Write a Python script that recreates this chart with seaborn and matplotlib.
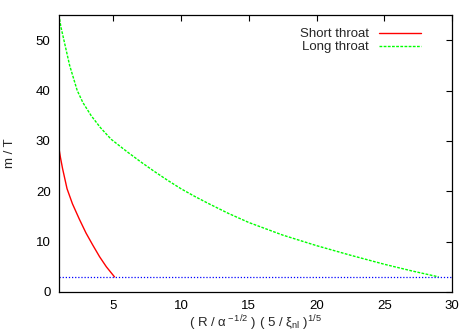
# Curvas m/T para garganta corta y larga
import pandas as pd
import matplotlib
matplotlib.use("Agg")
import matplotlib.pyplot as plt
import seaborn as sns

# ---- Datos ----
short_x = [1.0, 1.1, 1.27, 1.6, 2.0, 2.5, 3.0, 3.5, 4.0, 4.5, 5.1]
short_y = [28.6, 26.9, 24.5, 20.5, 17.5, 14.5, 11.7, 9.3, 7.0, 5.0, 3.0]

long_x = [1.0, 1.15, 1.37, 1.79, 2.35, 2.77, 3.38, 4.07, 4.86, 6.0, 7.0, 8.0,
          9.0, 10.0, 11.0, 12.0, 13.5, 15.0, 17.5, 20.0, 22.5, 25.0, 27.0, 29.0]
long_y = [55.0, 52.6, 50.0, 45.0, 40.0, 37.6, 35.0, 32.6, 30.3, 27.9, 25.9,
          24.0, 22.2, 20.5, 19.0, 17.6, 15.6, 13.8, 11.3, 9.2, 7.3, 5.5, 4.2, 3.0]

LIMITE = 3.0
XTICKS = [5, 10, 15, 20, 25, 30]
YTICKS = [0, 10, 20, 30, 40, 50]

sns.set_theme(style="white")
plt.rcParams["font.family"] = ["Liberation Sans", "DejaVu Sans"]
plt.rcParams["mathtext.fontset"] = "custom"
plt.rcParams["mathtext.rm"] = "Liberation Sans"
plt.rcParams["mathtext.it"] = "Liberation Sans:italic"

fig = plt.figure(figsize=(4.75, 3.32), dpi=100)
ax = fig.add_axes([0.124, 0.1205, 0.828, 0.8345])

df_s = pd.DataFrame({"x": short_x, "y": short_y})
df_l = pd.DataFrame({"x": long_x, "y": long_y})
sns.lineplot(data=df_s, x="x", y="y", ax=ax, color="#ff0000", lw=1.0,
             label="Short throat")
sns.lineplot(data=df_l, x="x", y="y", ax=ax, color="#00ff00", lw=1.0,
             label="Long throat", linestyle=(0, (2, 1)))
ax.axhline(LIMITE, color="#0000ff", lw=0.9, linestyle=(0, (1, 1.5)))

ax.set_xlim(1, 30)
ax.set_ylim(0, 55)
ax.set_xticks(XTICKS)
ax.set_yticks(YTICKS)
ax.tick_params(direction="in", length=4, width=0.8, top=True, right=True,
               labelsize=9.5, colors="black", pad=6)
for s in ax.spines.values():
    s.set_color("black")
    s.set_linewidth(0.9)

ax.set_xlabel("( R / α$^{\\rm -1/2}$ ) ( 5 / ξ$_{\\rm nl}$ )$^{\\rm 1/5}$",
              fontsize=9.5, labelpad=1)
ax.set_ylabel("m / T", fontsize=9.5, labelpad=14)

ax.legend(loc="upper right", frameon=False, markerfirst=False, fontsize=9.5,
          handlelength=3.2, handletextpad=0.8, borderaxespad=0.6,
          labelspacing=0.05, bbox_to_anchor=(0.955, 1.0))

fig.savefig("out.png", dpi=100)
